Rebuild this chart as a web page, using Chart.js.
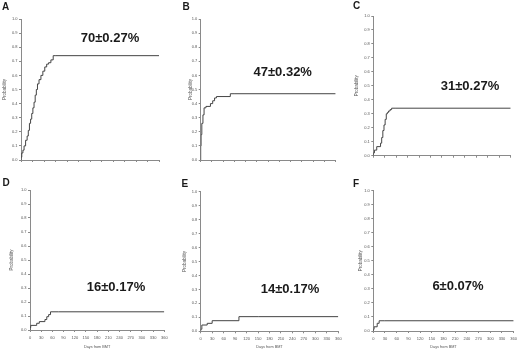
<!DOCTYPE html>
<html><head><meta charset="utf-8">
<script src="https://cdn.jsdelivr.net/npm/chart.js@4.4.1/dist/chart.umd.min.js"></script>
<style>
body{margin:0;background:#fff;width:520px;height:355px;position:relative;overflow:hidden}
canvas{position:absolute}
</style></head>
<body>
<canvas id="cA" width="170" height="170" style="left:0;top:0"></canvas>
<canvas id="cB" width="172" height="170" style="left:170px;top:0"></canvas>
<canvas id="cC" width="180" height="170" style="left:340px;top:0"></canvas>
<canvas id="cD" width="172" height="185" style="left:0;top:170px"></canvas>
<canvas id="cE" width="175" height="185" style="left:170px;top:170px"></canvas>
<canvas id="cF" width="180" height="185" style="left:340px;top:170px"></canvas>
<script>
// ---- data ----
const dayTicks = [0,30,60,90,120,150,180,210,240,270,300,330,360];
const dayTickLabels = ['0','30','60','90','120','150','180','210','240','270','300','330','360'];
const probTicks = [0,0.1,0.2,0.3,0.4,0.5,0.6,0.7,0.8,0.9,1.0];
const probTickLabels = ['0.0','0.1','0.2','0.3','0.4','0.5','0.6','0.7','0.8','0.9','1.0'];
const panelLetters = ['A','B','C','D','E','F'];
const panelAnnotations = ['70±0.27%','47±0.32%','31±0.27%','16±0.17%','14±0.17%','6±0.07%'];
const yTitle = 'Probability';
const xTitle = 'Days from BMT';

const daysA = [0,2,5,8,12,16,19,22,25,28,31,34,37,40,43,47,52,57,62,67,72,78,84,91,360];
const probA = [0,0.02,0.05,0.07,0.10,0.14,0.17,0.21,0.26,0.29,0.33,0.37,0.41,0.46,0.50,0.54,0.57,0.60,0.63,0.66,0.68,0.69,0.71,0.74,0.74];
const daysB = [0,1,3,6,9,14,26,32,37,42,79,89,360];
const probB = [0,0.10,0.18,0.26,0.32,0.37,0.38,0.40,0.42,0.44,0.45,0.47,0.47];
const daysC = [0,3,9,19,22,25,28,31,34,37,40,44,48,57,360];
const probC = [0,0.02,0.04,0.065,0.09,0.13,0.18,0.22,0.26,0.30,0.31,0.32,0.33,0.34,0.34];
const daysD = [0,2,18,25,40,45,50,55,77,360];
const probD = [0,0.018,0.033,0.048,0.06,0.075,0.095,0.11,0.13,0.13];
const daysE = [0,3,17,30,100,152,360];
const probE = [0,0.015,0.045,0.057,0.076,0.105,0.105];
const daysF = [0,2,10,15,28,360];
const probF = [0,0.012,0.03,0.055,0.073,0.073];

const seriesDays = [daysA,daysB,daysC,daysD,daysE,daysF];
const seriesProb = [probA,probB,probC,probD,probE,probF];

// ---- layout (styles) ----
const layouts = [
  {id:'cA', padL:2.3,  yW:18.7, padT:19,   padR:11,  xH:10,   showX:false, letter:[2,2],   annot:[110,38]},
  {id:'cB', padL:18,   yW:12.7, padT:19,   padR:4,   xH:10,   showX:false, letter:[12.5,2], annot:[112.7,72.7]},
  {id:'cC', padL:14,   yW:19.3, padT:16,   padR:9.3, xH:14.3, showX:false, letter:[13,1.5], annot:[130,86.7]},
  {id:'cD', padL:9,    yW:21,   padT:20,   padR:7.7, xH:25,   showX:true,  letter:[2.5,8],  annot:[116,117.3]},
  {id:'cE', padL:12.3, yW:18.4, padT:21.7, padR:6.7, xH:23.7, showX:true,  letter:[11.5,9], annot:[120,119.3]},
  {id:'cF', padL:18,   yW:15.3, padT:20.7, padR:4.3, xH:24,   showX:true,  letter:[13,9],   annot:[118,116.7]}
];

const axisColor = '#8a8a8a';
const FAM = 'Arial, Liberation Sans, sans-serif';
const tickFont = {family:FAM, size:4};

layouts.forEach((L, i) => {
  const pts = seriesDays[i].map((d, k) => ({x:d, y:seriesProb[i][k]}));
  const labelPlugin = {
    id:'labels'+i,
    afterDraw(chart){
      const c = chart.ctx;
      c.save();
      c.fillStyle = '#1a1a1a';
      c.font = 'bold 10px ' + FAM;
      c.textAlign = 'left'; c.textBaseline = 'top';
      c.fillText(panelLetters[i], L.letter[0], L.letter[1]);
      c.font = 'bold 13px ' + FAM;
      c.textAlign = 'center'; c.textBaseline = 'middle';
      c.fillText(panelAnnotations[i], L.annot[0], L.annot[1]);
      c.restore();
    }
  };
  new Chart(document.getElementById(L.id), {
    type:'line',
    data:{datasets:[{data:pts, stepped:'after', borderColor:'#444', borderWidth:1, pointRadius:0, fill:false}]},
    options:{
      responsive:false, animation:false, devicePixelRatio:1,
      layout:{padding:{left:L.padL, top:L.padT, right:L.padR, bottom:0}},
      plugins:{legend:{display:false}, tooltip:{enabled:false}},
      scales:{
        x:{type:'linear', min:0, max:360,
           afterBuildTicks:s=>{ s.ticks = dayTicks.map(v=>({value:v})); },
           afterFit:s=>{ s.height = L.xH; },
           ticks:{font:tickFont, color: L.showX ? '#555' : 'rgba(0,0,0,0)', padding:3, maxRotation:0, autoSkip:false,
                  callback:(v,k)=>dayTickLabels[k]},
           grid:{display:true, drawOnChartArea:false, drawTicks:true, tickLength:2, color:axisColor},
           border:{display:true, color:axisColor, width:1},
           title:{display:L.showX, text:xTitle, font:{family:FAM, size:3.8}, color:'#555', padding:{top:0,bottom:5.8}}
        },
        y:{min:0, max:1,
           afterBuildTicks:s=>{ s.ticks = probTicks.map(v=>({value:v})); },
           afterFit:s=>{ s.width = L.yW; },
           ticks:{font:tickFont, color:'#555', padding:1.5, autoSkip:false,
                  callback:(v,k)=>probTickLabels[k]},
           grid:{display:true, drawOnChartArea:false, drawTicks:true, tickLength:2, color:axisColor},
           border:{display:true, color:axisColor, width:1},
           title:{display:true, text:yTitle, font:{family:FAM, size:4.5}, color:'#555', padding:{top:0,bottom:0}}
        }
      }
    },
    plugins:[labelPlugin]
  });
});
</script>
</body></html>
